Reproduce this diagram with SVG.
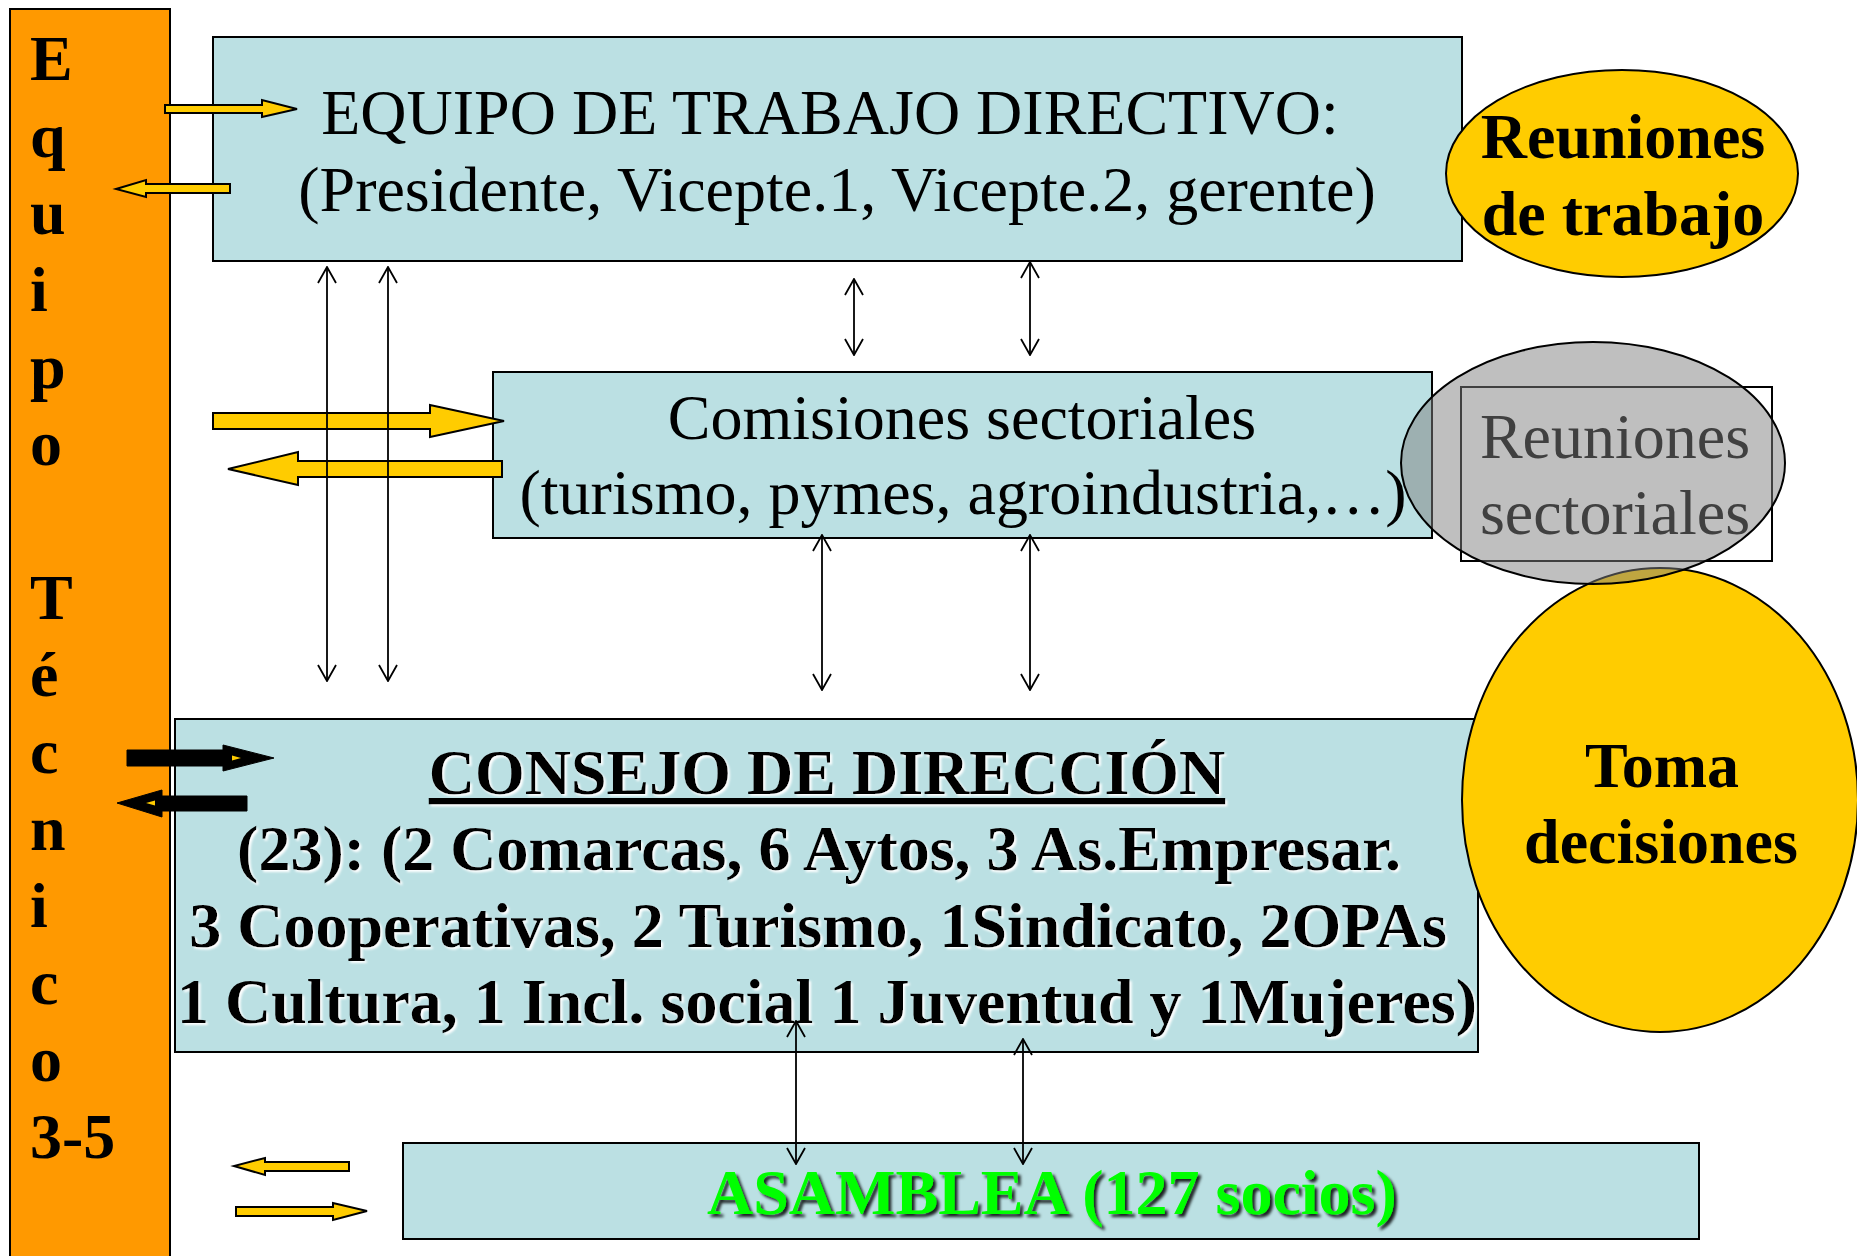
<svg xmlns="http://www.w3.org/2000/svg" width="1857" height="1256" viewBox="0 0 1857 1256">
<defs>
<style>
.box{fill:#bbe0e3;stroke:#000;stroke-width:2}
.serif{font-family:"Liberation Serif","Times New Roman",serif;font-size:64px;fill:#000}
.b{font-weight:bold}
.mid{text-anchor:middle}
.yel{fill:#ffcc00;stroke:#000;stroke-width:2;stroke-linejoin:miter}
.blk{fill:#000;stroke:#000;stroke-width:1}
.thin{stroke:#000;stroke-width:1.8;fill:none;marker-start:url(#oh);marker-end:url(#oh)}
</style>
<marker id="oh" viewBox="0 0 18 20" refX="17" refY="10" markerWidth="18" markerHeight="20" markerUnits="userSpaceOnUse" orient="auto-start-reverse">
<path d="M1,1 L17,10 L1,19" fill="none" stroke="#000" stroke-width="1.8"/>
</marker>
<filter id="wsh" x="-5%" y="-30%" width="110%" height="160%">
<feDropShadow dx="2" dy="2" stdDeviation="0.8" flood-color="#ffffff" flood-opacity="1"/>
</filter>
<filter id="ksh" x="-5%" y="-30%" width="110%" height="160%">
<feDropShadow dx="3" dy="3" stdDeviation="1.5" flood-color="#000" flood-opacity="0.85"/>
</filter>
</defs>
<rect x="0" y="0" width="1857" height="1256" fill="#fff"/>

<g id="equipo-tecnico">
<rect x="10" y="9" width="160" height="1260" fill="#ff9900" stroke="#000" stroke-width="2"/>
<text class="serif b" x="30" y="80">E<tspan x="30" dy="77">q</tspan><tspan x="30" dy="77">u</tspan><tspan x="30" dy="77">i</tspan><tspan x="30" dy="77">p</tspan><tspan x="30" dy="77">o</tspan><tspan x="30" dy="154">T</tspan><tspan x="30" dy="77">é</tspan><tspan x="30" dy="77">c</tspan><tspan x="30" dy="77">n</tspan><tspan x="30" dy="77">i</tspan><tspan x="30" dy="77">c</tspan><tspan x="30" dy="77">o</tspan><tspan x="30" dy="77">3-5</tspan></text>
</g>

<g id="equipo-directivo">
<rect class="box" x="213" y="37" width="1249" height="224"/>
<text class="serif mid" x="830" y="134">EQUIPO DE TRABAJO DIRECTIVO:</text>
<text class="serif mid" x="837" y="211">(Presidente, Vicepte.1, Vicepte.2, gerente)</text>
</g>

<g id="comisiones">
<rect class="box" x="493" y="372" width="939" height="166" stroke="#222"/>
<text class="serif mid" x="962" y="439">Comisiones sectoriales</text>
<text class="serif mid" x="963" y="514">(turismo, pymes, agroindustria,…)</text>
</g>

<g id="consejo">
<rect class="box" x="175" y="719" width="1303" height="333" stroke="#333"/>
<g filter="url(#wsh)">
<text class="serif b mid" x="827" y="794" text-decoration="underline">CONSEJO DE DIRECCIÓN</text>
<text class="serif b mid" x="819" y="870">(23): (2 Comarcas, 6 Aytos, 3 As.Empresar.</text>
<text class="serif b mid" x="818" y="947">3 Cooperativas, 2 Turismo, 1Sindicato, 2OPAs</text>
<text class="serif b mid" x="827" y="1023">1 Cultura, 1 Incl. social 1 Juventud y 1Mujeres)</text>
</g>
</g>

<g id="asamblea">
<rect class="box" x="403" y="1143" width="1296" height="96"/>
<text class="serif b" x="707" y="1214" style="fill:#00ff00" filter="url(#ksh)">ASAMBLEA (127 socios)</text>
</g>

<g id="reuniones-trabajo">
<ellipse cx="1622" cy="173.5" rx="176" ry="103.5" fill="#ffcc00" stroke="#000" stroke-width="2"/>
<text class="serif b mid" x="1623" y="158">Reuniones</text>
<text class="serif b mid" x="1623" y="235">de trabajo</text>
</g>

<g id="toma-decisiones">
<ellipse cx="1660" cy="800" rx="198" ry="232" fill="#ffcc00" stroke="#000" stroke-width="2"/>
<text class="serif b mid" x="1662" y="787">Toma</text>
<text class="serif b mid" x="1661" y="863">decisiones</text>
</g>

<g id="reuniones-sectoriales">
<rect x="1461" y="387" width="311" height="174" fill="none" stroke="#000" stroke-width="2"/>
<ellipse cx="1593" cy="463" rx="192" ry="121" fill="#808080" fill-opacity="0.5" stroke="#000" stroke-width="2"/>
<text class="serif mid" x="1615" y="458" style="fill:#404040">Reuniones</text>
<text class="serif mid" x="1615" y="534" style="fill:#404040">sectoriales</text>
</g>

<g id="connectors">
<polygon class="yel" points="165,105 262,105 262,100 297,109 262,117 262,113 165,113"/>
<polygon class="yel" points="230,184 146,184 146,180 116,189 146,197 146,193 230,193"/>
<polygon class="yel" points="213,413 430,413 430,405 504,421 430,437 430,429 213,429"/>
<polygon class="yel" points="502,461 298,461 298,452 228,469 298,485 298,477 502,477"/>
<polygon class="blk" points="127,750 223,750 223,745 274,758 223,771 223,766 127,766"/>
<polygon points="232,755.5 241,758 232,760.5" fill="#ffcc00"/>
<polygon class="blk" points="247,796 162,796 162,790 117,803 162,817 162,811 247,811"/>
<polygon points="146,803 155,800.5 155,805.5" fill="#ffcc00"/>
<polygon class="yel" points="349,1162 265,1162 265,1158 234,1166 265,1175 265,1171 349,1171"/>
<polygon class="yel" points="236,1207 333,1207 333,1203 367,1211 333,1220 333,1216 236,1216"/>
<line class="thin" x1="327" y1="267" x2="327" y2="681"/>
<line class="thin" x1="388" y1="267" x2="388" y2="681"/>
<line class="thin" x1="854" y1="279" x2="854" y2="355"/>
<line class="thin" x1="1030" y1="262" x2="1030" y2="355"/>
<line class="thin" x1="822" y1="535" x2="822" y2="690"/>
<line class="thin" x1="1030" y1="535" x2="1030" y2="690"/>
<line class="thin" x1="796" y1="1021" x2="796" y2="1164"/>
<line class="thin" x1="1023" y1="1039" x2="1023" y2="1164"/>
</g>
</svg>
